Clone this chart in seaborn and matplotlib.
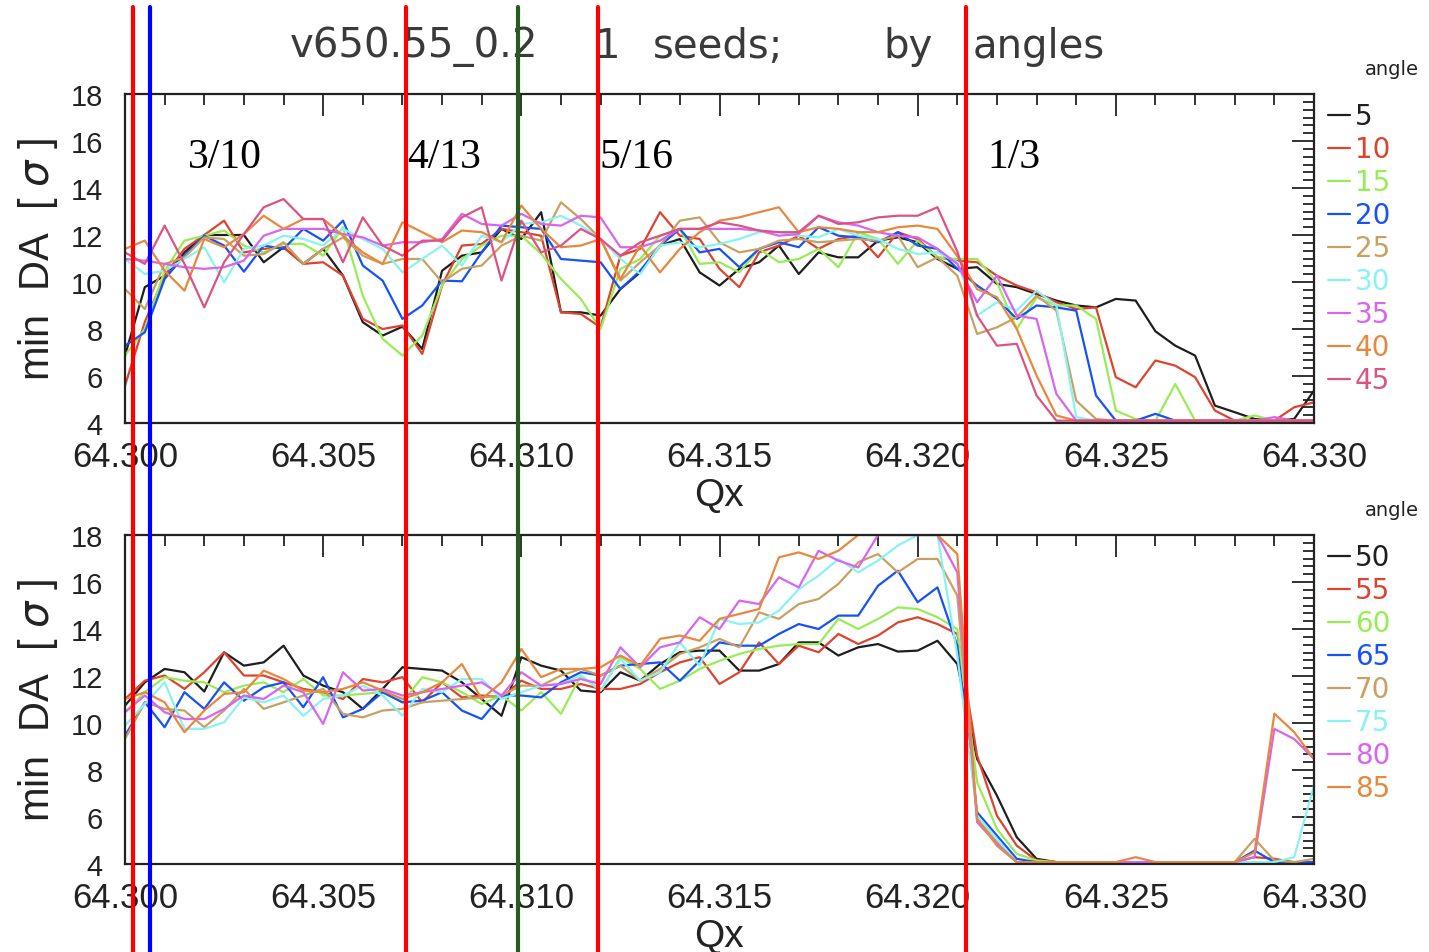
import numpy as np
import pandas as pd
import seaborn as sns
import matplotlib.pyplot as plt
from matplotlib.lines import Line2D
from matplotlib.ticker import MultipleLocator, AutoMinorLocator, FormatStrFormatter
from matplotlib.transforms import blended_transform_factory

# tune scan grid (Qx), 0.0005 steps
qx = np.linspace(64.300, 64.330, 61)

# ---- top panel: angles 5..45 ----
angles_top = [5, 10, 15, 20, 25, 30, 35, 40, 45]
top_5 = [6.87, 9.78, 10.27, 11.26, 12.0, 12.0, 12.0, 10.84, 11.48, 10.77,
         11.41, 10.27, 8.29, 7.72, 8.1, 7.15, 10.48, 11.12, 11.26, 12.26,
         11.83, 12.97, 8.71, 8.71, 8.57, 9.70, 10.41, 11.55, 11.83, 10.41,
         9.85, 10.56, 10.84, 11.55, 10.34, 11.26, 11.05, 11.05, 11.76, 11.90,
         11.69, 10.98, 10.56, 10.63, 9.92, 9.78, 9.49, 9.21, 9.0, 8.92,
         9.28, 9.21, 7.9, 7.29, 6.87, 4.74, 4.46, 4.17, 4.1, 4.17,
         5.38]
top_10 = [5.59, 8.3, 10.27, 11.41, 12.0, 12.61, 11.26, 11.41, 11.48, 10.77,
          10.84, 10.27, 8.43, 8.0, 8.15, 6.94, 9.85, 11.55, 11.62, 12.26,
          12.12, 11.97, 8.71, 8.64, 8.07, 11.12, 11.41, 12.97, 11.97, 11.83,
          10.56, 9.78, 11.26, 11.55, 11.97, 11.41, 11.83, 11.97, 11.05, 12.12,
          11.83, 11.05, 10.91, 10.84, 10.27, 9.85, 9.56, 9.14, 8.85, 8.92,
          5.95, 5.52, 6.66, 6.44, 5.95, 4.53, 4.1, 4.1, 4.1, 4.67,
          4.88]
top_15 = [6.87, 8.0, 10.48, 11.76, 11.97, 12.19, 11.55, 11.26, 11.62, 11.62,
          11.12, 12.33, 9.42, 7.58, 6.87, 7.72, 9.85, 10.98, 11.55, 11.97,
          11.97, 11.2, 10.13, 9.28, 8.0, 10.56, 10.98, 11.97, 12.26, 10.77,
          10.84, 10.41, 11.41, 10.84, 10.98, 11.41, 10.63, 12.12, 11.83, 10.77,
          11.76, 11.05, 10.98, 10.98, 9.99, 8.0, 9.35, 9.0, 9.0, 8.43,
          4.53, 4.17, 4.1, 5.66, 4.1, 4.1, 4.1, 4.32, 4.1, 4.1,
          4.1]
top_20 = [7.29, 7.86, 10.13, 11.12, 11.97, 11.55, 10.44, 11.55, 11.41, 12.26,
          11.76, 12.61, 10.7, 10.06, 8.43, 9.0, 10.06, 10.03, 11.26, 12.4,
          12.33, 12.26, 10.98, 10.91, 10.84, 9.70, 10.48, 11.55, 12.26, 11.26,
          11.41, 10.63, 11.41, 11.69, 11.48, 12.33, 11.97, 11.90, 11.69, 12.12,
          11.55, 11.41, 10.56, 9.85, 9.28, 8.43, 9.0, 8.92, 8.78, 5.17,
          4.1, 4.1, 4.39, 4.1, 4.1, 4.1, 4.1, 4.1, 4.1, 4.1,
          4.1]
top_25 = [9.70, 8.85, 10.77, 11.05, 11.90, 11.83, 11.12, 11.19, 11.69, 10.77,
          11.41, 11.90, 11.12, 10.77, 10.98, 10.98, 9.99, 10.56, 10.70, 11.55,
          11.97, 11.76, 13.39, 12.68, 11.83, 10.06, 10.84, 11.55, 12.61, 12.75,
          11.69, 11.26, 11.41, 11.76, 11.83, 11.69, 11.76, 11.83, 11.76, 11.97,
          10.63, 11.05, 10.27, 7.79, 8.07, 8.5, 9.42, 8.78, 4.95, 4.17,
          4.1, 4.1, 4.1, 4.1, 4.1, 4.1, 4.1, 4.1, 4.1, 4.1,
          4.1]
top_30 = [10.98, 10.34, 10.48, 10.98, 11.48, 9.99, 11.41, 11.55, 11.97, 11.83,
          11.55, 12.26, 11.83, 11.41, 10.41, 10.98, 11.55, 10.7, 11.97, 11.69,
          12.47, 12.54, 12.82, 12.4, 11.83, 10.98, 10.34, 11.55, 11.69, 11.48,
          11.62, 11.83, 12.12, 12.12, 11.97, 11.90, 12.26, 11.97, 11.83, 11.41,
          11.19, 11.26, 10.84, 8.57, 9.14, 8.78, 9.63, 9.0, 4.25, 4.1,
          4.1, 4.1, 4.1, 4.1, 4.1, 4.1, 4.1, 4.1, 4.1, 4.1,
          4.1]
top_35 = [10.98, 10.91, 10.77, 10.63, 10.56, 10.63, 10.91, 11.97, 12.26, 12.26,
          12.26, 12.04, 11.90, 11.55, 11.69, 11.69, 11.83, 12.9, 12.47, 12.4,
          12.9, 12.47, 12.4, 12.82, 12.75, 11.48, 11.48, 11.76, 12.26, 12.26,
          12.26, 12.26, 12.19, 11.97, 12.04, 12.82, 12.54, 12.4, 12.12, 11.97,
          11.90, 11.41, 10.77, 9.14, 10.27, 8.57, 8.43, 5.24, 4.1, 4.1,
          4.1, 4.1, 4.1, 4.1, 4.1, 4.1, 4.1, 4.1, 4.25, 4.1,
          4.1]
top_40 = [11.41, 11.76, 10.48, 9.63, 11.83, 11.48, 12.04, 12.82, 12.26, 12.68,
          12.68, 11.97, 11.26, 10.77, 12.54, 12.12, 11.69, 12.19, 12.12, 11.69,
          13.25, 12.26, 11.48, 11.55, 11.83, 10.13, 11.55, 10.41, 11.41, 12.12,
          12.61, 12.75, 12.97, 13.18, 12.12, 12.33, 12.26, 12.12, 12.12, 12.33,
          12.4, 12.26, 11.1, 9.70, 9.35, 8.0, 6.02, 4.32, 4.1, 4.1,
          4.1, 4.1, 4.1, 4.1, 4.1, 4.1, 4.1, 4.1, 4.1, 4.1,
          4.1]
top_45 = [11.26, 10.77, 12.4, 10.77, 8.92, 10.84, 12.04, 13.18, 13.53, 12.68,
          12.68, 10.84, 12.75, 11.55, 11.12, 11.76, 11.76, 12.75, 13.18, 10.06,
          12.61, 11.26, 11.55, 12.26, 11.83, 11.12, 11.69, 11.97, 12.26, 12.26,
          12.54, 12.4, 12.19, 12.12, 12.12, 12.82, 12.47, 12.54, 12.75, 12.82,
          12.82, 13.18, 11.3, 8.57, 7.29, 7.37, 5.17, 4.1, 4.1, 4.1,
          4.1, 4.1, 4.1, 4.1, 4.1, 4.1, 4.1, 4.1, 4.1, 4.1,
          4.1]

# ---- bottom panel: angles 50..85 ----
angles_bot = [50, 55, 60, 65, 70, 75, 80, 85]
bot_50 = [10.74, 11.73, 12.3, 12.16, 11.34, 13.01, 12.44, 12.58, 13.29, 12.02,
          11.59, 11.31, 10.6, 11.45, 12.37, 12.3, 12.23, 11.73, 11.02, 10.31,
          12.8, 12.44, 12.23, 11.38, 11.31, 12.16, 11.8, 12.51, 13.01, 13.08,
          13.08, 12.23, 12.23, 12.51, 13.43, 13.43, 12.87, 13.22, 13.36, 13.04,
          13.08, 13.5, 12.51, 8.47, 6.91, 5.14, 4.22, 4.08, 4.08, 4.08,
          4.08, 4.08, 4.08, 4.08, 4.08, 4.08, 4.08, 4.08, 4.08, 4.08,
          4.08]
bot_55 = [11.02, 11.8, 12.02, 11.45, 12.16, 13.01, 12.02, 12.02, 11.73, 11.45,
          11.31, 11.02, 11.87, 11.73, 11.95, 10.88, 11.73, 11.09, 11.17, 11.09,
          11.8, 11.45, 11.45, 11.66, 11.45, 11.45, 11.66, 12.16, 12.58, 12.8,
          11.66, 12.16, 13.43, 12.51, 13.29, 13.01, 13.79, 13.36, 13.72, 14.28,
          14.5, 14.21, 13.79, 8.61, 6.06, 4.78, 4.15, 4.08, 4.08, 4.08,
          4.08, 4.08, 4.08, 4.08, 4.08, 4.08, 4.08, 4.29, 4.22, 4.08,
          4.08]
bot_60 = [10.46, 11.31, 11.95, 11.8, 11.73, 11.31, 11.59, 11.73, 11.31, 11.87,
          11.17, 11.17, 11.24, 11.31, 10.88, 11.95, 11.73, 11.31, 10.81, 11.17,
          10.53, 11.31, 10.39, 12.02, 11.38, 12.8, 12.3, 11.45, 11.8, 12.3,
          12.65, 12.94, 13.15, 13.29, 13.36, 13.36, 14.43, 14.0, 14.43, 14.92,
          14.85, 14.5, 14.0, 7.48, 5.49, 4.43, 4.15, 4.08, 4.08, 4.08,
          4.08, 4.08, 4.08, 4.08, 4.08, 4.08, 4.08, 4.08, 4.08, 4.08,
          4.08]
bot_65 = [9.46, 10.88, 9.82, 11.31, 10.6, 11.73, 10.95, 11.52, 11.73, 10.67,
          11.95, 10.24, 10.6, 11.31, 10.88, 10.95, 11.31, 10.53, 10.17, 11.17,
          11.17, 11.09, 11.73, 12.16, 12.02, 12.44, 12.51, 12.58, 11.8, 12.65,
          13.43, 13.29, 13.29, 13.79, 14.21, 14.0, 14.57, 14.57, 15.84, 16.48,
          15.14, 15.77, 13.29, 6.2, 5.21, 4.22, 4.08, 4.08, 4.08, 4.08,
          4.08, 4.08, 4.08, 4.08, 4.08, 4.08, 4.08, 4.57, 4.08, 4.08,
          4.08]
bot_70 = [9.32, 10.88, 10.6, 10.53, 9.82, 10.53, 11.45, 10.6, 10.88, 11.17,
          11.45, 10.39, 10.24, 10.53, 10.6, 10.88, 10.95, 11.02, 11.09, 11.17,
          11.59, 11.59, 12.02, 12.3, 12.02, 12.44, 11.8, 12.3, 12.94, 13.22,
          13.58, 13.22, 14.71, 14.43, 15.06, 15.28, 15.92, 16.84, 17.19, 16.41,
          16.98, 16.98, 15.42, 5.92, 4.93, 4.08, 4.08, 4.08, 4.08, 4.08,
          4.08, 4.08, 4.08, 4.08, 4.08, 4.08, 4.08, 5.07, 4.15, 4.08,
          4.22]
bot_75 = [9.89, 10.81, 11.73, 9.75, 9.75, 10.03, 11.09, 10.88, 11.17, 10.31,
          11.02, 11.17, 11.59, 11.17, 10.31, 11.45, 11.31, 11.87, 11.87, 11.02,
          11.31, 11.59, 11.66, 12.02, 11.38, 12.72, 11.8, 12.16, 13.43, 12.44,
          14.43, 14.21, 14.28, 14.78, 15.7, 16.27, 16.98, 16.41, 16.91, 17.55,
          18.0, 18.0, 12.87, 6.06, 5.07, 4.08, 4.08, 4.08, 4.08, 4.08,
          4.08, 4.08, 4.08, 4.08, 4.08, 4.08, 4.08, 4.08, 4.08, 4.29,
          7.34]
bot_80 = [10.46, 11.17, 10.46, 10.17, 10.17, 10.6, 11.17, 11.02, 11.59, 11.31,
          9.96, 12.16, 11.38, 11.45, 11.17, 11.31, 11.45, 11.59, 11.73, 11.17,
          12.16, 11.59, 11.66, 11.87, 11.66, 13.22, 12.37, 13.22, 13.43, 14.5,
          14.0, 15.21, 15.06, 16.2, 15.77, 17.33, 16.91, 16.62, 18.0, 18.0,
          18.0, 18.0, 16.41, 5.78, 4.86, 4.08, 4.08, 4.08, 4.08, 4.08,
          4.08, 4.08, 4.08, 4.08, 4.08, 4.08, 4.08, 4.29, 9.75, 9.32,
          8.47]
bot_85 = [11.02, 11.31, 10.88, 9.61, 10.53, 11.24, 11.31, 12.23, 11.87, 11.38,
          11.31, 11.45, 11.73, 11.38, 11.02, 11.31, 11.73, 12.51, 11.02, 11.73,
          13.15, 11.95, 12.3, 12.3, 12.37, 12.87, 12.44, 13.58, 13.72, 13.5,
          14.43, 14.64, 14.85, 17.05, 17.26, 16.98, 17.33, 18.0, 18.0, 18.0,
          18.0, 18.0, 17.19, 5.92, 4.78, 4.08, 4.08, 4.08, 4.08, 4.08,
          4.08, 4.29, 4.08, 4.08, 4.08, 4.08, 4.08, 4.5, 10.4, 9.61,
          8.47]

series_top = [top_5, top_10, top_15, top_20, top_25, top_30, top_35, top_40, top_45]
series_bot = [bot_50, bot_55, bot_60, bot_65, bot_70, bot_75, bot_80, bot_85]

colors = ['#1e1e1e', '#dc4430', '#98ec58', '#1652f5', '#c9a062', '#8af2f2', '#d765ef', '#e7883f', '#db5386']

# resonance markers (Qx) drawn across the whole page
res_lines = [(64.30021, '#ff0000'), (64.30063, '#0000ff'), (64.30709, '#ff0000'),
             (64.30991, '#2a5a24'), (64.31193, '#ff0000'), (64.32122, '#ff0000')]
res_labels = [(64.30158, '3/10'), (64.30712, '4/13'), (64.31196, '5/16'), (64.32177, '1/3')]

# title pieces with their centre (figure px)
title_parts = [('v650.55_0.2', 414), ('1', 607), ('seeds;', 718), ('by', 908), ('angles', 1039)]

bad = [(a, len(v)) for a, v in zip(angles_top + angles_bot, series_top + series_bot) if len(v) != len(qx)]
if bad:
    raise ValueError(f'length mismatch: {bad}')


def long_df(series, angles):
    rows = []
    for a, vals in zip(angles, series):
        rows.append(pd.DataFrame({'Qx': qx, 'DA': vals, 'angle': a}))
    return pd.concat(rows, ignore_index=True)


sns.set_style('white')
plt.rcParams['font.family'] = ['Liberation Sans', 'DejaVu Sans']

W, H = 1429, 953
fig = plt.figure(figsize=(W / 100, H / 100), dpi=100)
ax1 = fig.add_axes([125 / W, 1 - 424 / H, 1189 / W, 329 / H])
ax2 = fig.add_axes([125 / W, 1 - 865 / H, 1189 / W, 329 / H])

for ax, series, angles in [(ax1, series_top, angles_top), (ax2, series_bot, angles_bot)]:
    df = long_df(series, angles)
    pal = dict(zip(angles, colors))
    sns.lineplot(data=df, x='Qx', y='DA', hue='angle', hue_order=angles, palette=pal,
                 estimator=None, sort=False, legend=False, linewidth=1.6, ax=ax)
    ax.set_xlim(64.300, 64.330)
    ax.set_ylim(4, 18)
    ax.xaxis.set_major_locator(MultipleLocator(0.005))
    ax.xaxis.set_minor_locator(MultipleLocator(0.001))
    ax.xaxis.set_major_formatter(FormatStrFormatter('%.3f'))
    ax.yaxis.set_major_locator(MultipleLocator(2))
    ax.yaxis.set_minor_locator(AutoMinorLocator(6))
    ax.tick_params(which='both', direction='in', top=True, right=True, color='#222', width=1.3)
    ax.tick_params(which='major', length=16)
    ax.tick_params(which='minor', length=8)
    ax.tick_params(axis='x', labelsize=25, pad=12, labelcolor='#222')
    ax.tick_params(axis='y', labelsize=21, pad=16, labelcolor='#222')
    for s in ax.spines.values():
        s.set_linewidth(1.6)
        s.set_color('#222')
    ax.set_xlabel('Qx', fontsize=28, color='#222')
    ax.xaxis.set_label_coords(0.5, -0.165)
    ax.set_ylabel('min  DA  [ $\\sigma$ ]', fontsize=30, color='#222')
    ax.yaxis.set_label_coords(-0.055, 0.5)
    handles = ax.get_lines()[:len(angles)]
    ax.legend(handles, [str(a) for a in angles], loc='upper left',
              bbox_to_anchor=(1.012, 0.975), frameon=False,
              labelcolor='linecolor', handlelength=0.8, handletextpad=0.15,
              labelspacing=0.18, borderaxespad=0, borderpad=0,
              prop={'family': 'DejaVu Sans', 'size': 20})
    ax.text(1.0656, 1.076, 'angle', transform=ax.transAxes, ha='center', va='center',
            fontsize=14, family='DejaVu Sans', color='#222')

for x, lab in res_labels:
    ax1.text(x, 15.35, lab, fontsize=30, family='Liberation Serif', va='center', ha='left', color='black')

for txt, px in title_parts:
    fig.text(px / W, 1 - 47 / H, txt, ha='center', va='center', fontsize=29, color='#3a3a3a', family='DejaVu Sans')

tr = blended_transform_factory(ax1.transData, fig.transFigure)
for x, c in res_lines:
    fig.add_artist(Line2D([x, x], [0, 1 - 8 / H], transform=tr, color=c, linewidth=3, zorder=10))

fig.savefig('out.png', dpi=100)
